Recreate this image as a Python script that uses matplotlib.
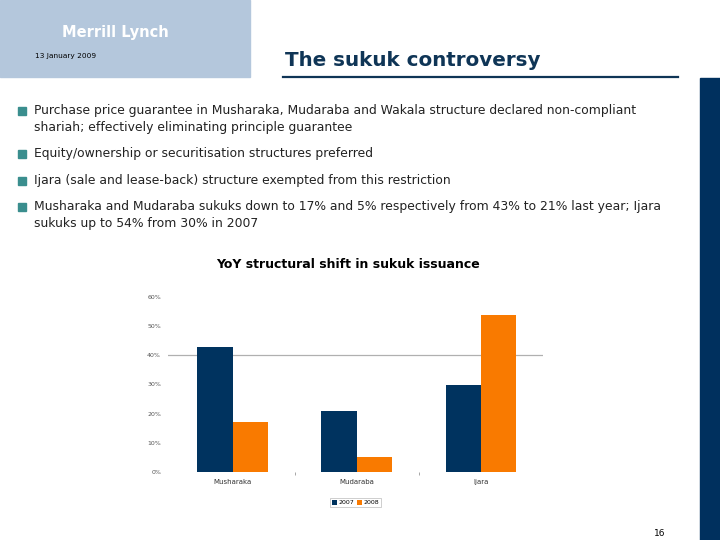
import matplotlib.pyplot as plt
from matplotlib.patches import Rectangle
import numpy as np

# chart data
categories = ["Musharaka", "Mudaraba", "Ijara"]
share_2007 = [43, 21, 30]
share_2008 = [17, 5, 54]
years = ["2007", "2008"]
y_ticks = [0, 10, 20, 30, 40, 50, 60]

bullets = [
    "Purchase price guarantee in Musharaka, Mudaraba and Wakala structure declared non-compliant\nshariah; effectively eliminating principle guarantee",
    "Equity/ownership or securitisation structures preferred",
    "Ijara (sale and lease-back) structure exempted from this restriction",
    "Musharaka and Mudaraba sukuks down to 17% and 5% respectively from 43% to 21% last year; Ijara\nsukuks up to 54% from 30% in 2007",
]
bullet_rows = [111, 154, 181, 207]

navy = "#00335f"
orange = "#f97a00"
teal = "#3a8e8e"

W, H = 720, 540


def fx(x):
    return x / W


def fy(y):
    return 1 - y / H


fig = plt.figure(figsize=(7.2, 5.4), dpi=100)

# header panel + right band
fig.patches.append(Rectangle((0, fy(77)), fx(250), 77 / H, transform=fig.transFigure,
                             color="#b4c7dc", zorder=0))
fig.patches.append(Rectangle((fx(700), 0), fx(20), fy(78), transform=fig.transFigure,
                             color="#00305e", zorder=0))
fig.text(fx(62), fy(33), "Merrill Lynch", color="white", fontsize=10.5, fontweight="bold",
         va="center", ha="left")
fig.text(fx(35), fy(56), "13 January 2009", color="black", fontsize=5.3, va="center")

# slide title
fig.text(fx(285), fy(60), "The sukuk controversy", color="#0f3556", fontsize=14.3,
         fontweight="bold", va="center")
fig.add_artist(plt.Line2D([fx(283), fx(678)], [fy(77), fy(77)], color="#0f3556", lw=1.6))

# bullets
for txt, y in zip(bullets, bullet_rows):
    fig.patches.append(Rectangle((fx(18), fy(y + 4)), fx(8), 8 / H, transform=fig.transFigure,
                                 color=teal))
    fig.text(fx(34), fy(y - 7), txt, fontsize=8.95, color="#222222", va="top",
             linespacing=1.35)

fig.text(fx(348), fy(265), "YoY structural shift in sukuk issuance", fontsize=9,
         fontweight="bold", ha="center", va="center")
fig.text(fx(660), fy(533), "16", fontsize=6.5, ha="center", va="center")

# chart
ax = fig.add_axes([fx(168), fy(472), fx(543) - fx(168), (472 - 297) / H])
x = np.arange(len(categories))
bw = 0.285
ax.bar(x - bw / 2, share_2007, bw, color=navy, label=years[0], zorder=2)
ax.bar(x + bw / 2, share_2008, bw, color=orange, label=years[1], zorder=2)
ax.axhline(40, color="#b0b0b0", lw=0.9, zorder=1)
ax.set_xlim(-0.52, 2.5)
ax.set_ylim(0, 60)
ax.set_yticks(y_ticks)
ax.set_yticklabels([f"{v}%" for v in y_ticks], fontsize=4.5, color="#555555")
ax.set_xticks(x)
ax.set_xticklabels(categories, fontsize=5, color="#333333")
ax.set_xticks([0.5, 1.5], minor=True)
ax.tick_params(axis="both", which="major", length=0, pad=5)
ax.tick_params(axis="x", which="minor", length=2, color="#999999", direction="out")
for s in ax.spines.values():
    s.set_visible(False)

leg = ax.legend(loc="upper center", bbox_to_anchor=(0.5, -0.13), ncol=2, fontsize=4.5,
                frameon=True, handlelength=0.8, handleheight=0.8, columnspacing=0.5,
                handletextpad=0.2, borderpad=0.3, fancybox=False)
leg.get_frame().set_edgecolor("#aaaaaa")
leg.get_frame().set_linewidth(0.5)

fig.savefig("out.png", dpi=100)
